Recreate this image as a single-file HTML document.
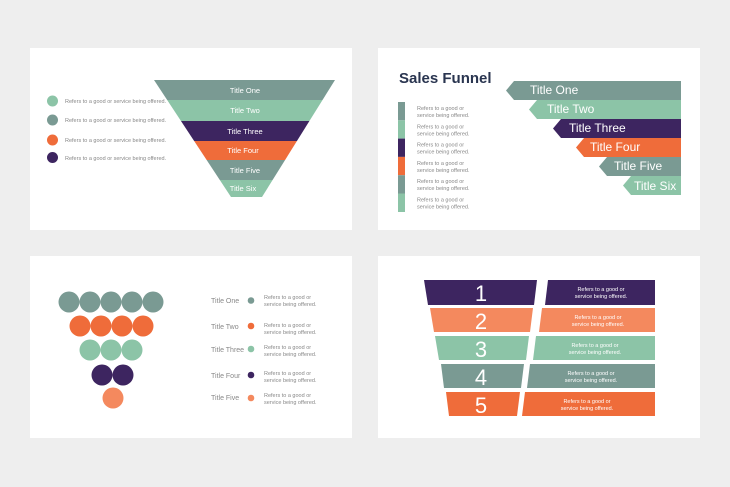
<!DOCTYPE html>
<html><head><meta charset="utf-8"><style>
html,body{margin:0;padding:0;background:#eeeeee;}
svg{display:block;font-family:"Liberation Sans",sans-serif;}
</style></head><body>
<svg width="730" height="487" viewBox="0 0 730 487" xmlns="http://www.w3.org/2000/svg">
<rect width="730" height="487" fill="#eeeeee"/>
<rect x="30" y="48" width="322" height="182" fill="#fff"/>
<rect x="378" y="48" width="322" height="182" fill="#fff"/>
<rect x="30" y="256" width="322" height="182" fill="#fff"/>
<rect x="378" y="256" width="322" height="182" fill="#fff"/>

<!-- Card 1 -->
<defs><clipPath id="fun"><polygon points="154,80 335,80 262,197 231,197"/></clipPath></defs>
<g clip-path="url(#fun)">
<rect x="150" y="80" width="190" height="20" fill="#7a9a93"/>
<rect x="150" y="100" width="190" height="21" fill="#8cc4a7"/>
<rect x="150" y="121" width="190" height="20" fill="#3d2560"/>
<rect x="150" y="141" width="190" height="19" fill="#ef6c3a"/>
<rect x="150" y="160" width="190" height="20" fill="#7a9a93"/>
<rect x="150" y="180" width="190" height="17" fill="#8cc4a7"/>
</g>
<g fill="#fff" font-size="7.5" text-anchor="middle">
<text x="245" y="93">Title One</text>
<text x="245" y="113">Title Two</text>
<text x="245" y="134">Title Three</text>
<text x="243" y="153">Title Four</text>
<text x="245" y="173">Title Five</text>
<text x="243" y="191">Title Six</text>
</g>
<circle cx="52.5" cy="101" r="5.5" fill="#8cc4a7"/>
<circle cx="52.5" cy="120" r="5.5" fill="#7a9a93"/>
<circle cx="52.5" cy="140" r="5.5" fill="#ef6c3a"/>
<circle cx="52.5" cy="157.5" r="5.5" fill="#3d2560"/>
<g fill="#888" font-size="5.5">
<text x="65" y="103">Refers to a good or service being offered.</text>
<text x="65" y="122">Refers to a good or service being offered.</text>
<text x="65" y="142">Refers to a good or service being offered.</text>
<text x="65" y="160">Refers to a good or service being offered.</text>
</g>

<!-- Card 2 -->
<text x="399" y="83" font-size="15" font-weight="bold" fill="#2a3550">Sales Funnel</text>
<polygon points="514,81 681,81 681,100 514,100 506,90.5" fill="#7a9a93"/>
<polygon points="537,100 681,100 681,119 537,119 529,109.5" fill="#8cc4a7"/>
<polygon points="561,119 681,119 681,138 561,138 553,128.5" fill="#3d2560"/>
<polygon points="584,138 681,138 681,157 584,157 576,147.5" fill="#ef6c3a"/>
<polygon points="607,157 681,157 681,176 607,176 599,166.5" fill="#7a9a93"/>
<polygon points="631,176 681,176 681,195 631,195 623,185.5" fill="#8cc4a7"/>
<g fill="#fff" font-size="12">
<text x="530" y="94">Title One</text>
<text x="547" y="113">Title Two</text>
<text x="569" y="132">Title Three</text>
<text x="590" y="151">Title Four</text>
<text x="614" y="170">Title Five</text>
<text x="634" y="190">Title Six</text>
</g>
<rect x="398" y="102" width="7" height="18.3" fill="#7a9a93"/>
<rect x="398" y="120.3" width="7" height="18.3" fill="#8cc4a7"/>
<rect x="398" y="138.6" width="7" height="18.3" fill="#3d2560"/>
<rect x="398" y="156.9" width="7" height="18.3" fill="#ef6c3a"/>
<rect x="398" y="175.2" width="7" height="18.3" fill="#7a9a93"/>
<rect x="398" y="193.5" width="7" height="18.5" fill="#8cc4a7"/>
<g fill="#888" font-size="5.5">
<text x="417" y="110">Refers to a good or</text><text x="417" y="117">service being offered.</text>
<text x="417" y="128.5">Refers to a good or</text><text x="417" y="135.5">service being offered.</text>
<text x="417" y="146.5">Refers to a good or</text><text x="417" y="153.5">service being offered.</text>
<text x="417" y="165">Refers to a good or</text><text x="417" y="172">service being offered.</text>
<text x="417" y="183">Refers to a good or</text><text x="417" y="190">service being offered.</text>
<text x="417" y="201.5">Refers to a good or</text><text x="417" y="208.5">service being offered.</text>
</g>

<!-- Card 3 -->
<g fill="#7a9a93"><circle cx="69" cy="302" r="10.5"/><circle cx="90" cy="302" r="10.5"/><circle cx="111" cy="302" r="10.5"/><circle cx="132" cy="302" r="10.5"/><circle cx="153" cy="302" r="10.5"/></g>
<g fill="#ef6c3a"><circle cx="80" cy="326" r="10.5"/><circle cx="101" cy="326" r="10.5"/><circle cx="122" cy="326" r="10.5"/><circle cx="143" cy="326" r="10.5"/></g>
<g fill="#8cc4a7"><circle cx="90" cy="350" r="10.5"/><circle cx="111" cy="350" r="10.5"/><circle cx="132" cy="350" r="10.5"/></g>
<g fill="#3d2560"><circle cx="102" cy="375" r="10.5"/><circle cx="123" cy="375" r="10.5"/></g>
<circle cx="113" cy="398" r="10.5" fill="#f4895e"/>
<g fill="#888" font-size="7">
<text x="211" y="303">Title One</text>
<text x="211" y="329">Title Two</text>
<text x="211" y="352">Title Three</text>
<text x="211" y="378">Title Four</text>
<text x="211" y="400">Title Five</text>
</g>
<circle cx="251" cy="300.5" r="3.3" fill="#7a9a93"/>
<circle cx="251" cy="326" r="3.3" fill="#ef6c3a"/>
<circle cx="251" cy="349" r="3.3" fill="#8cc4a7"/>
<circle cx="251" cy="375" r="3.3" fill="#3d2560"/>
<circle cx="251" cy="398" r="3.3" fill="#f4895e"/>
<g fill="#888" font-size="5.5">
<text x="264" y="299">Refers to a good or</text><text x="264" y="306">service being offered.</text>
<text x="264" y="327">Refers to a good or</text><text x="264" y="334">service being offered.</text>
<text x="264" y="349">Refers to a good or</text><text x="264" y="356">service being offered.</text>
<text x="264" y="375">Refers to a good or</text><text x="264" y="382">service being offered.</text>
<text x="264" y="397">Refers to a good or</text><text x="264" y="404">service being offered.</text>
</g>

<!-- Card 4 -->
<polygon points="424,280 537,280 534,305 428,305" fill="#3d2560"/>
<polygon points="430,308 533,308 530,332 434,332" fill="#f4895e"/>
<polygon points="435,336 529,336 526,360 439,360" fill="#8cc4a7"/>
<polygon points="441,364 524,364 521,388 444,388" fill="#7a9a93"/>
<polygon points="446,392 520,392 517,416 449,416" fill="#ef6c3a"/>
<polygon points="548,280 655,280 655,305 545,305" fill="#3d2560"/>
<polygon points="542,308 655,308 655,332 539,332" fill="#f4895e"/>
<polygon points="536,336 655,336 655,360 533,360" fill="#8cc4a7"/>
<polygon points="530,364 655,364 655,388 527,388" fill="#7a9a93"/>
<polygon points="525,392 655,392 655,416 522,416" fill="#ef6c3a"/>
<g fill="#fff" font-size="22" text-anchor="middle">
<text x="481" y="301">1</text>
<text x="481" y="329">2</text>
<text x="481" y="357">3</text>
<text x="481" y="385">4</text>
<text x="481" y="413">5</text>
</g>
<g fill="#fff" font-size="5.5" text-anchor="middle">
<text x="601" y="291">Refers to a good or</text><text x="601" y="298">service being offered.</text>
<text x="598" y="319">Refers to a good or</text><text x="598" y="326">service being offered.</text>
<text x="595" y="347">Refers to a good or</text><text x="595" y="354">service being offered.</text>
<text x="591" y="375">Refers to a good or</text><text x="591" y="382">service being offered.</text>
<text x="587" y="403">Refers to a good or</text><text x="587" y="410">service being offered.</text>
</g>
</svg>
</body></html>
